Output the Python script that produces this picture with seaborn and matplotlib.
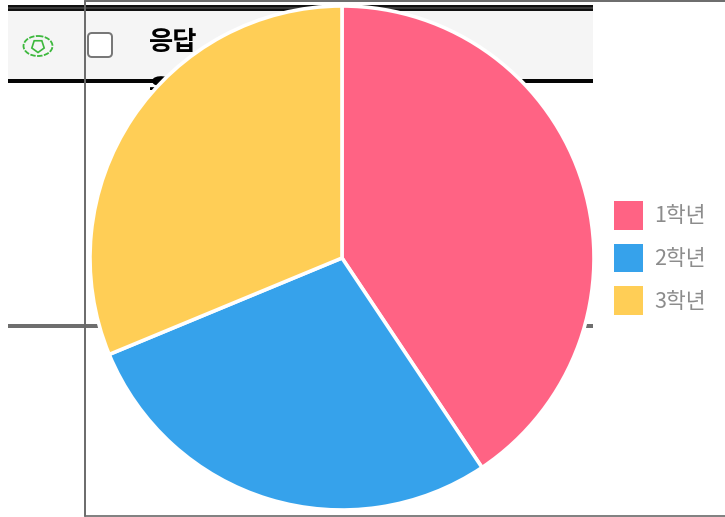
import matplotlib
matplotlib.use('Agg')
import matplotlib.pyplot as plt
from matplotlib.patches import Rectangle, FancyBboxPatch, Ellipse, RegularPolygon, Patch
import seaborn as sns

# Data
grades = ['1학년', '2학년', '3학년']
counts = [13, 9, 10]
pie_colors = ['#FF6384', '#36A2EB', '#FFCE56']
header_text = '응답'

sns.set_theme(style='white')
plt.rcParams['font.family'] = ['Noto Sans CJK KR', 'DejaVu Sans']

W, H = 725, 517
fig = plt.figure(figsize=(W / 100, H / 100), dpi=100)

# background layer in pixel coordinates (leftovers of the page behind the chart)
bg = fig.add_axes([0, 0, 1, 1])
bg.set_xlim(0, W)
bg.set_ylim(H, 0)
bg.axis('off')

bg.add_patch(Rectangle((8, 8), 585, 72, color='#F5F5F5', lw=0))
bg.add_patch(Rectangle((8, 5), 585, 6, color='#111111', lw=0))
bg.add_patch(Rectangle((8, 7), 585, 2, color='#3A3A3A', lw=0))
bg.add_patch(Rectangle((8, 79), 585, 4, color='#050505', lw=0))
bg.add_patch(Rectangle((8, 324), 585, 4, color='#6E6E6E', lw=0))

# eye icon
bg.add_patch(Ellipse((38, 46), 29, 20, fc='none', ec='#3DB83D', lw=1.3, ls=(0, (3, 0.8))))
bg.add_patch(RegularPolygon((38, 46), 5, radius=6.5, fc='none', ec='#3DB83D', lw=1.2))

# checkbox
bg.add_patch(FancyBboxPatch((88, 33), 24, 24, boxstyle='round,pad=0,rounding_size=4',
                            fc='white', ec='#757575', lw=1.4))

bg.text(149, 42, header_text, fontsize=19, fontweight='bold', color='black', ha='left', va='center')
bg.text(149, 90, header_text[0], fontsize=19, fontweight='bold', color='black', ha='left', va='center')

# thin frame of the chart canvas
frame_color = '#6A6A6A'
bg.plot([85, 85], [1, 516], color=frame_color, lw=1.4, zorder=5)
bg.plot([85, W], [1.2, 1.2], color=frame_color, lw=1.4, zorder=5)
bg.plot([85, W], [516, 516], color=frame_color, lw=1.2, zorder=5)

# pie placed by its pixel box
cx, cy, r = 342, 258, 252
ax = fig.add_axes([(cx - r) / W, 1 - (cy + r) / H, 2 * r / W, 2 * r / H])
ax.patch.set_alpha(0)
wedges, _ = ax.pie(counts, colors=sns.color_palette(pie_colors), startangle=90, counterclock=False,
                   radius=1, wedgeprops={'edgecolor': 'white', 'linewidth': 2.6})
ax.set_xlim(-1, 1)
ax.set_ylim(-1, 1)

# plain swatches, the wedge's white edge would shrink them
handles = [Patch(facecolor=c, edgecolor='none') for c in pie_colors]
fig.legend(handles, grades, loc='center left', bbox_to_anchor=(595 / W, 1 - 258 / H),
           frameon=False, fontsize=15.5, labelcolor='#8C8C8C',
           handlelength=1.35, handleheight=1.68, handletextpad=0.5, labelspacing=0.65)

fig.savefig('out.png', dpi=100)
